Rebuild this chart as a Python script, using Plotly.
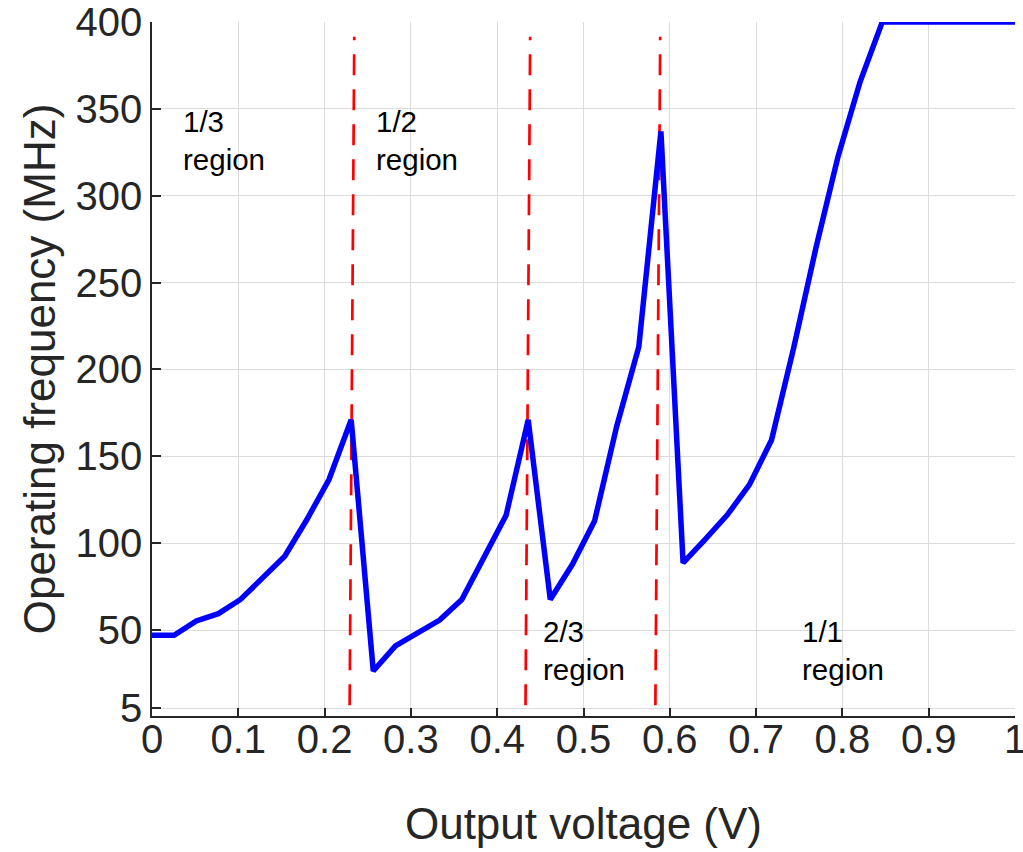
import plotly.graph_objects as go

# Output voltage (V)
voltage = [0, 0.0256, 0.0513, 0.0769, 0.1026, 0.1282, 0.1538, 0.1795, 0.2051, 0.2308,
           0.2564, 0.2821, 0.3077, 0.3333, 0.3590, 0.3846, 0.4103, 0.4359, 0.4615, 0.4872,
           0.5128, 0.5385, 0.5641, 0.5897, 0.6154, 0.6410, 0.6667, 0.6923, 0.7179, 0.7436,
           0.7692, 0.7949, 0.8205, 0.8462, 0.8718, 0.8974, 0.9231, 0.9487, 0.9744, 1.0]
# Operating frequency (MHz)
frequency = [47, 47, 55.2, 59.4, 67.6, 80.1, 92.5, 113.6, 136.6, 171,
             26.4, 40.8, 48, 55.7, 67.6, 92, 116, 171, 67.6, 87.8,
             112.7, 167.3, 213, 337, 88.6, 102.2, 116.3, 133.7, 159.4, 212.5,
             269.7, 322.5, 365.6, 400, 400, 400, 400, 400, 400, 400]

# Region boundaries (slightly slanted dashed lines)
boundary_x_top = [0.2344, 0.4382, 0.5889]
boundary_x_bottom = [0.2290, 0.4328, 0.5833]
boundary_y = [6.7, 391.5]

region_labels = ["1/3<br>region", "1/2<br>region", "2/3<br>region", "1/1<br>region"]
region_x = [0.0333, 0.2572, 0.4510, 0.7512]
region_y = [353.5, 353.5, 59.8, 59.8]

y_ticks = [5, 50, 100, 150, 200, 250, 300, 350, 400]
x_ticks = [0, 0.1, 0.2, 0.3, 0.4, 0.5, 0.6, 0.7, 0.8, 0.9, 1]
x_ticktext = ["0", "0.1", "0.2", "0.3", "0.4", "0.5", "0.6", "0.7", "0.8", "0.9", "1"]

FONT = "Liberation Sans, Arial, sans-serif"
AX = "#262626"

fig = go.Figure()

for xt, xb in zip(boundary_x_top, boundary_x_bottom):
    fig.add_trace(go.Scatter(
        x=[xb, xt], y=boundary_y, mode="lines",
        line=dict(color="#ff0000", width=2.7, dash="21px,14px"),
        showlegend=False, hoverinfo="skip"))

fig.add_trace(go.Scatter(
    x=voltage, y=frequency, mode="lines",
    line=dict(color="#0000ff", width=5.5),
    showlegend=False, cliponaxis=False))

for txt, xx, yy in zip(region_labels, region_x, region_y):
    fig.add_annotation(x=xx, y=yy, text=txt, showarrow=False,
                       xanchor="left", yanchor="top", align="left",
                       font=dict(family=FONT, size=29.5, color="#000000"))

fig.update_layout(
    width=1023, height=852,
    margin=dict(l=152, r=8, t=22, b=136, autoexpand=False),
    paper_bgcolor="white", plot_bgcolor="white",
    font=dict(family=FONT, color=AX),
)
fig.update_xaxes(
    range=[0, 1], tickvals=x_ticks, ticktext=x_ticktext,
    showgrid=True, gridcolor="#dcdcdc", gridwidth=1,
    showline=True, linecolor=AX, linewidth=1.5,
    ticks="inside", ticklen=8, tickcolor=AX, tickwidth=1.5,
    tickfont=dict(family=FONT, size=40, color=AX),
    ticklabeloverflow="allow", ticklabelstandoff=-13,
    title=dict(text="Output voltage (V)", font=dict(family=FONT, size=44, color=AX), standoff=48),
    zeroline=False, mirror=False, automargin=False,
)
fig.update_yaxes(
    range=[0.5, 400], tickvals=y_ticks, ticktext=[str(v) for v in y_ticks],
    showgrid=True, gridcolor="#dcdcdc", gridwidth=1,
    showline=True, linecolor=AX, linewidth=1.5,
    ticks="inside", ticklen=9, tickcolor=AX, tickwidth=1.5,
    tickfont=dict(family=FONT, size=40, color=AX),
    ticklabeloverflow="allow",
    title=dict(text="Operating frequency (MHz)", font=dict(family=FONT, size=44, color=AX), standoff=6),
    zeroline=False, mirror=False, automargin=False,
)

fig.write_html("out.html")
